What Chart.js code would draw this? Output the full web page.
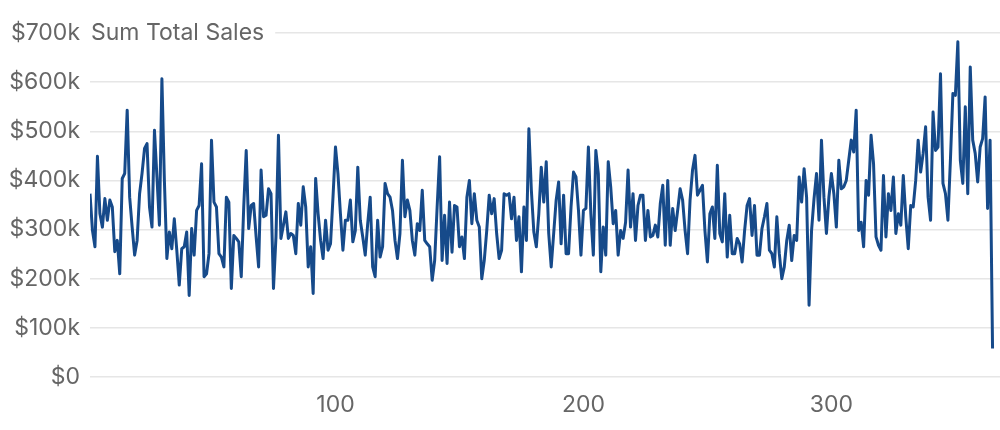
<!DOCTYPE html>
<html>
<head>
<meta charset="utf-8">
<script src="https://cdn.jsdelivr.net/npm/chart.js@4/dist/chart.umd.min.js"></script>
<style>
  html, body { margin: 0; padding: 0; background: #fff; }
  #wrap { width: 1000px; height: 430px; position: relative; }
</style>
</head>
<body>
<div id="wrap"><canvas id="c"></canvas></div>
<script>
// Sum Total Sales per day (values in $k)
const salesPart1 = [373,298,265,449,332,305,363,319,360,346,255,278,210,404,414,543,366,305,248,278,373,415,465,475,346,305,502,407,309,607,400,241,295,261,322,258,187,261,265,295,166,302,248,339,349,434];
const salesPart2 = [204,210,251,482,356,346,251,244,224,366,356,180,288,282,275,204,346,461,302,349,353,285,224,421,326,329,383,373,180,285,492,282,309,336,282,292,288,251,353,309,387,346,224,265,170,404];
const salesPart3 = [332,278,241,319,258,271,366,468,414,332,258,319,319,360,275,298,427,319,285,248,312,366,224,204,319,244,265,394,373,366,339,278,241,292,441,326,360,339,278,248,312,298,380,278,271,265];
const salesPart4 = [197,237,346,448,237,329,231,356,254,349,346,265,285,241,366,400,312,373,319,305,200,237,298,370,332,363,292,241,258,373,370,373,322,366,278,326,214,346,278,505,380,295,265,332,427,356];
const salesPart5 = [438,292,224,292,360,397,271,370,251,251,346,417,407,339,248,339,343,468,332,248,461,414,214,305,248,438,387,312,339,248,298,282,315,421,305,373,278,349,370,370,278,339,285,288,309,285];
const salesPart6 = [353,390,268,400,268,343,298,339,383,360,298,251,360,421,451,370,380,390,298,234,332,346,282,431,292,275,373,244,329,251,251,282,271,234,298,349,363,288,349,248,248,302,326,353,258,251];
const salesPart7 = [224,326,251,200,224,278,309,237,288,278,407,356,424,366,146,298,363,414,319,482,366,292,366,414,373,305,441,383,387,400,441,482,458,543,298,315,265,400,370,492,434,285,268,258,410,285];
const salesPart8 = [373,339,407,292,332,309,410,326,261,349,346,400,482,417,455,509,366,319,539,461,468,617,394,373,319,441,577,573,682,441,394,550,373,631,482,455,397,468,485,570,343,482,58];

const yTickValues = [0,100000,200000,300000,400000,500000,600000,700000];
const xTickValues = [100,200,300];
const seriesTitle = 'Sum Total Sales';

const salesK = [].concat(salesPart1, salesPart2, salesPart3, salesPart4, salesPart5, salesPart6, salesPart7, salesPart8);
const points = salesK.map((v, i) => ({ x: i + 1, y: v * 1000 }));

const FONT = 'Inter, "Noto Sans", sans-serif';
const FSIZE = 23;
const TEXT = '#666666';

const titlePlugin = {
  id: 'axisTitle',
  beforeDatasetsDraw(chart) {
    const { ctx, chartArea, scales } = chart;
    const y = scales.y.getPixelForValue(yTickValues[yTickValues.length - 1]);
    ctx.save();
    ctx.font = FSIZE + 'px ' + FONT;
    const w = ctx.measureText(seriesTitle).width;
    ctx.fillStyle = '#ffffff';
    ctx.fillRect(chartArea.left - 2, y - 4, w + 14, 8);
    ctx.fillStyle = TEXT;
    ctx.textBaseline = 'middle';
    ctx.textAlign = 'left';
    ctx.fillText(seriesTitle, chartArea.left + 1, y);
    ctx.restore();
  }
};

new Chart(document.getElementById('c'), {
  type: 'line',
  data: {
    datasets: [{
      label: seriesTitle,
      data: points,
      borderColor: '#164a8a',
      borderWidth: 3,
      pointRadius: 0,
      tension: 0,
      fill: false,
      borderJoinStyle: 'round'
    }]
  },
  options: {
    responsive: true,
    maintainAspectRatio: false,
    animation: false,
    layout: { padding: { top: 33, right: 0, left: 0, bottom: 0 } },
    plugins: { legend: { display: false }, tooltip: { enabled: false } },
    scales: {
      x: {
        type: 'linear',
        min: 1,
        max: 368,
        grid: { display: false, drawTicks: false },
        border: { display: false },
        afterBuildTicks: s => { s.ticks = xTickValues.map(v => ({ value: v })); },
        afterFit: s => { s.height = 53; },
        ticks: { color: TEXT, font: { family: FONT, size: FSIZE }, padding: 14, maxRotation: 0 }
      },
      y: {
        min: 0,
        max: 700000,
        afterBuildTicks: s => { s.ticks = yTickValues.map(v => ({ value: v })); },
        afterFit: s => { s.width = 90; },
        grid: { color: '#e6e6e6', lineWidth: 1.5, drawTicks: false },
        border: { display: false },
        ticks: {
          color: TEXT,
          font: { family: FONT, size: FSIZE },
          padding: 10,
          callback: v => v === 0 ? '$0' : '$' + (v / 1000) + 'k'
        }
      }
    }
  },
  plugins: [titlePlugin]
});
</script>
</body>
</html>
